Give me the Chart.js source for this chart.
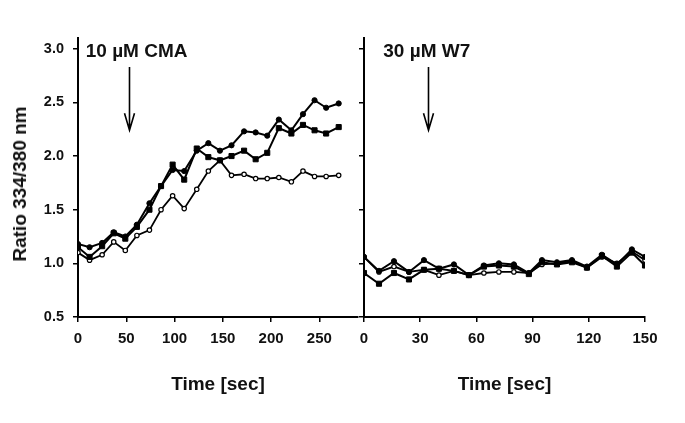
<!DOCTYPE html>
<html>
<head>
<meta charset="utf-8">
<script src="https://cdn.jsdelivr.net/npm/chart.js@4.4.0/dist/chart.umd.min.js"></script>
<style>
html,body{margin:0;padding:0;background:#fff;}
#wrap{position:relative;width:685px;height:423px;overflow:hidden;}
#c1{position:absolute;left:0;top:0;}
#c2{position:absolute;left:351px;top:0;}
#ytitle{position:absolute;left:20px;top:184px;transform:translate(-50%,-50%) rotate(-90deg);font:bold 19px "Liberation Sans",Arial,sans-serif;white-space:nowrap;color:#111;}
</style>
</head>
<body>
<div id="wrap">
  <canvas id="c1" width="365" height="423"></canvas>
  <canvas id="c2" width="334" height="423"></canvas>
  <div id="ytitle">Ratio 334/380 nm</div>
</div>
<script>
// ---- data: left panel (10 µM CMA) ----
const cmaTime = [0,12,25,37,49,61,74,86,98,110,123,135,147,159,172,184,196,208,221,233,245,257,270];
const cmaCellA = [1.18,1.15,1.19,1.29,1.25,1.36,1.56,1.72,1.87,1.86,2.05,2.12,2.05,2.10,2.23,2.22,2.19,2.34,2.24,2.39,2.52,2.45,2.49];
const cmaCellB = [1.15,1.06,1.16,1.28,1.23,1.34,1.50,1.72,1.92,1.78,2.07,1.99,1.96,2.00,2.05,1.97,2.03,2.26,2.21,2.29,2.24,2.21,2.27];
const cmaCellC = [1.10,1.03,1.08,1.20,1.12,1.26,1.31,1.50,1.63,1.51,1.69,1.86,1.96,1.82,1.83,1.79,1.79,1.80,1.76,1.86,1.81,1.81,1.82];
const cmaTicksX = [0,50,100,150,200,250];

// ---- data: right panel (30 µM W7) ----
const w7Time = [0,8,16,24,32,40,48,56,64,72,80,88,95,103,111,119,127,135,143,150];
const w7CellA = [1.06,0.93,1.02,0.92,1.03,0.95,0.99,0.89,0.98,1.00,0.99,0.91,1.03,1.01,1.03,0.97,1.08,0.99,1.13,1.06];
const w7CellB = [0.91,0.81,0.91,0.85,0.94,0.95,0.93,0.89,0.97,0.98,0.97,0.90,1.01,0.99,1.01,0.96,1.07,0.97,1.10,0.98];
const w7CellC = [1.06,0.92,0.97,0.92,0.94,0.89,0.93,0.89,0.91,0.92,0.92,0.91,0.99,1.00,1.02,0.96,1.06,1.00,1.11,1.03];
const w7TicksX = [0,30,60,90,120,150];

const ratioTicks = [0.5,1.0,1.5,2.0,2.5,3.0];

// annotations (data units)
const cmaNote = {text:'10 µM CMA', x:8, y:2.92, arrowX:53, arrowTop:2.83, arrowBottom:2.24};
const w7Note  = {text:'30 µM W7',  x:10.3, y:2.92, arrowX:34, arrowTop:2.83, arrowBottom:2.24};

const FONT = '"Liberation Sans", Arial, sans-serif';
const INK = '#111';

function pts(xs, ys){ return xs.map((x,i)=>({x:x, y:ys[i]})); }

function makeDatasets(t, a, b, c){
  return [
    {data:pts(t,a), borderColor:'#000', backgroundColor:'#000', borderWidth:2,
     pointStyle:'circle', pointRadius:2.6, pointBackgroundColor:'#000', pointBorderColor:'#000', pointBorderWidth:1},
    {data:pts(t,b), borderColor:'#000', backgroundColor:'#000', borderWidth:2,
     pointStyle:'rect', pointRadius:3.6, pointBackgroundColor:'#000', pointBorderColor:'#000', pointBorderWidth:1},
    {data:pts(t,c), borderColor:'#000', backgroundColor:'#fff', borderWidth:1.8,
     pointStyle:'circle', pointRadius:2.2, pointBackgroundColor:'#fff', pointBorderColor:'#000', pointBorderWidth:1.2}
  ];
}

const notePlugin = {
  id:'note',
  afterDatasetsDraw(chart, args, opts){
    const n = opts.note; if(!n) return;
    const xs = chart.scales.x, ys = chart.scales.y, ctx = chart.ctx;
    ctx.save();
    ctx.fillStyle = INK;
    ctx.font = 'bold 19px ' + FONT;
    ctx.textAlign = 'left';
    ctx.textBaseline = 'alphabetic';
    ctx.fillText(n.text, xs.getPixelForValue(n.x), ys.getPixelForValue(n.y));
    const ax = Math.round(xs.getPixelForValue(n.arrowX)) + 0.5;
    const y1 = ys.getPixelForValue(n.arrowTop), y2 = ys.getPixelForValue(n.arrowBottom);
    ctx.strokeStyle = '#000';
    ctx.lineWidth = 1.6;
    ctx.beginPath();
    ctx.moveTo(ax, y1); ctx.lineTo(ax, y2);
    ctx.moveTo(ax-5, y2-17); ctx.lineTo(ax, y2); ctx.lineTo(ax+5, y2-17);
    ctx.stroke();
    ctx.restore();
  }
};

function makeChart(id, t, a, b, c, xMax, xTicks, showYLabels, yWidth, padRight, note){
  return new Chart(document.getElementById(id), {
    type:'line',
    data:{datasets:makeDatasets(t,a,b,c)},
    plugins:[notePlugin],
    options:{
      responsive:false, animation:false, devicePixelRatio:1,
      layout:{padding:{left:0, right:padRight, top:38, bottom:0}},
      plugins:{legend:{display:false}, tooltip:{enabled:false}, note:{note:note}},
      elements:{line:{tension:0}},
      scales:{
        x:{type:'linear', min:0, max:xMax,
           afterBuildTicks:s=>{ s.ticks = xTicks.map(v=>({value:v})); },
           afterFit:s=>{ s.height = 106; },
           grid:{display:true, drawOnChartArea:false, drawTicks:true, tickLength:5, color:'#000', lineWidth:1.5},
           border:{display:true, color:'#000', width:2},
           ticks:{color:INK, font:{family:FONT, size:15, weight:'bold'}, padding:8, maxRotation:0, autoSkip:false},
           title:{display:true, text:'Time [sec]', color:INK, font:{family:FONT, size:19, weight:'bold'}, padding:{top:4, bottom:27}}
        },
        y:{type:'linear', min:0.5, max:3.1,
           afterBuildTicks:s=>{ s.ticks = ratioTicks.map(v=>({value:v})); },
           afterFit:s=>{ s.width = yWidth; },
           grid:{display:true, drawOnChartArea:false, drawTicks:true, tickLength:5, color:'#000', lineWidth:1.5},
           border:{display:true, color:'#000', width:2},
           ticks:{display:showYLabels, color:INK, font:{family:FONT, size:14.5, weight:'bold'}, padding:9,
                  callback:v=>Number(v).toFixed(1)}
        }
      }
    }
  });
}

makeChart('c1', cmaTime, cmaCellA, cmaCellB, cmaCellC, 290, cmaTicksX, true, 78, 7, cmaNote);
makeChart('c2', w7Time, w7CellA, w7CellB, w7CellC, 150, w7TicksX, false, 13, 40, w7Note);
</script>
</body>
</html>
